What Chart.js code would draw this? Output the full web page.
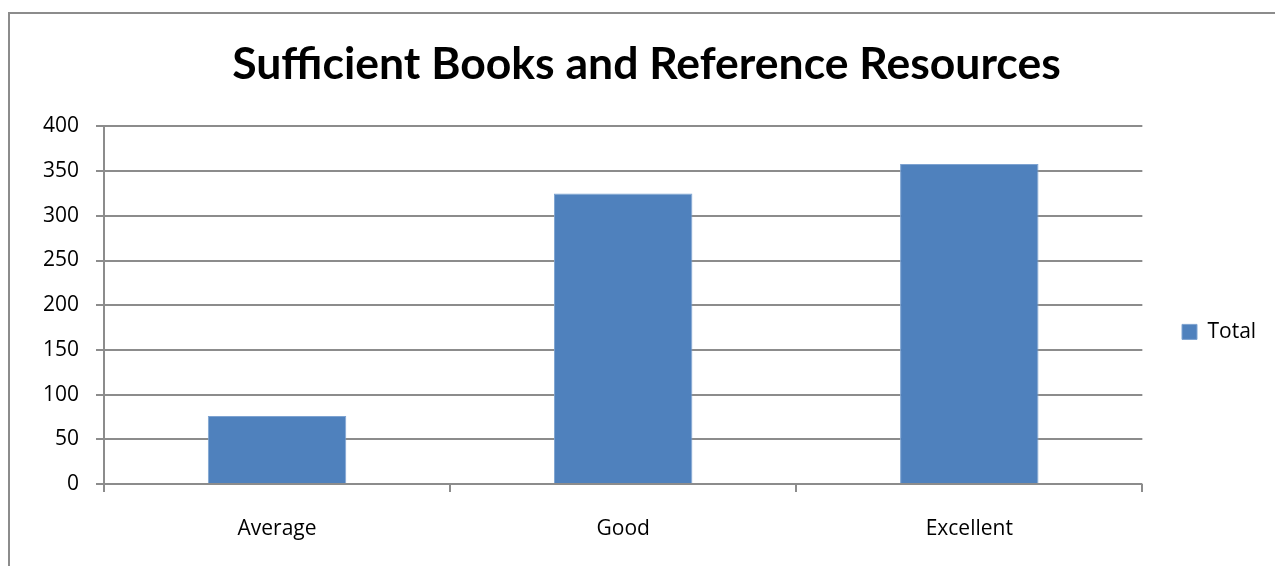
<!DOCTYPE html>
<html>
<head>
<meta charset="utf-8">
<script src="https://cdn.jsdelivr.net/npm/chart.js@4.4.0/dist/chart.umd.min.js"></script>
<style>
  html, body { margin: 0; padding: 0; background: #fff; overflow: hidden; }
  #wrap { position: relative; width: 1275px; height: 566px; }
  #frame { position: absolute; left: 8px; top: 12px; width: 1300px; height: 600px;
           border-left: 2px solid #8c8c8c; border-top: 2px solid #8c8c8c; }
  canvas { position: absolute; left: 0; top: 0; }
</style>
</head>
<body>
<div id="wrap">
  <div id="frame"></div>
  <canvas id="chart" width="1275" height="566"></canvas>
</div>
<script>
const categories = ['Average', 'Good', 'Excellent'];
const totals = [76, 325, 358];
const yTicks = [0, 50, 100, 150, 200, 250, 300, 350, 400];

const gridColor = '#8c8c8c';
const titleFont = "'Lato', 'Open Sans', sans-serif";
const font = "'Open Sans', 'Lato', sans-serif";

// nudge the legend to where Excel puts it (right of plot, a bit below middle)
const legendSpot = {
  id: 'legendSpot',
  beforeDraw(chart) {
    const lg = chart.legend;
    const p = lg.options.labels.padding;
    lg.left = 1182 - p;
    lg.top = 334 - 12.6 - p;
  }
};

new Chart(document.getElementById('chart'), {
  type: 'bar',
  data: {
    labels: categories,
    datasets: [{
      label: 'Total',
      data: totals,
      backgroundColor: '#4f81bd',
      borderColor: '#7ea3d1',
      borderWidth: 1,
      categoryPercentage: 1,
      barPercentage: 0.4
    }]
  },
  options: {
    responsive: false,
    animation: false,
    devicePixelRatio: 1,
    layout: { padding: { left: 18, right: 0, top: 0, bottom: 0 } },
    plugins: {
      tooltip: { enabled: false },
      title: {
        display: true,
        text: 'Sufficient Books and Reference Resources',
        color: '#000',
        font: { family: titleFont, size: 44.5, weight: 'bold' },
        padding: { top: 38, bottom: 35 }
      },
      legend: {
        position: 'right',
        align: 'start',
        labels: {
          color: '#000',
          font: { family: font, size: 21 },
          boxWidth: 15,
          boxHeight: 15,
          padding: 48.5
        }
      }
    },
    scales: {
      x: {
        afterFit: (s) => { s.height = 82; },
        grid: { display: true, drawOnChartArea: false, color: gridColor, lineWidth: 2, tickLength: 8 },
        border: { display: false },
        ticks: { color: '#000', font: { family: font, size: 21 }, padding: 24 }
      },
      y: {
        min: 0,
        max: 400,
        afterBuildTicks: (s) => { s.ticks = yTicks.map(v => ({ value: v })); },
        afterFit: (s) => { s.width = 86; },
        grid: { color: gridColor, lineWidth: 2, tickLength: 8 },
        border: { display: true, color: gridColor, width: 2 },
        ticks: { color: '#000', font: { family: font, size: 21 }, padding: 17 }
      }
    }
  },
  plugins: [legendSpot]
});
</script>
</body>
</html>
